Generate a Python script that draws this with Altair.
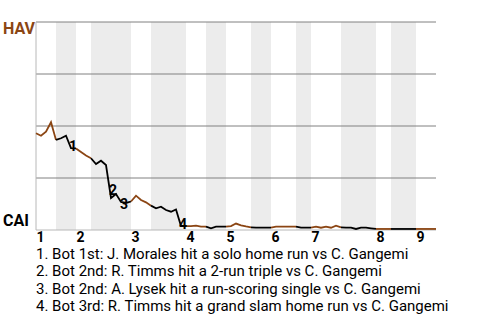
import altair as alt
import pandas as pd

# HAV win probability after each event (event index 0..80)
wp = [0.465, 0.453, 0.473, 0.518, 0.433,
      0.441, 0.453, 0.394, 0.392,
      0.375, 0.358, 0.345,
      0.317, 0.333, 0.3125, 0.154, 0.173, 0.135, 0.130, 0.137,
      0.165, 0.144, 0.133, 0.117,
      0.104, 0.112, 0.096, 0.088, 0.099, 0.019, 0.019,
      0.019, 0.021, 0.016, 0.016,
      0.008, 0.016, 0.016, 0.016,
      0.019, 0.031, 0.022, 0.017, 0.013,
      0.011, 0.011, 0.011, 0.011,
      0.016, 0.016, 0.016, 0.016, 0.016,
      0.011, 0.011, 0.011,
      0.016, 0.011, 0.016, 0.011, 0.021, 0.013,
      0.011, 0.011, 0.005, 0.011, 0.011, 0.008, 0.005,
      0.005, 0.005, 0.005,
      0.005, 0.005, 0.005, 0.005, 0.005,
      0.005, 0.005, 0.005, 0.005]

# half-inning boundaries (event index)
half_bounds = [0, 4, 8, 11, 19, 23, 30, 34, 38, 43, 47, 52, 55, 61, 68, 71, 76, 80]
inning_labels = ["1", "2", "3", "4", "5", "6", "7", "8", "9"]
grid_values = [0.25, 0.5, 0.75, 1.0]

event_idx = [7, 15, 17, 29]
event_marks = ["1", "2", "3", "4"]
notes = [
    "1. Bot 1st: J. Morales hit a solo home run vs C. Gangemi",
    "2. Bot 2nd: R. Timms hit a 2-run triple vs C. Gangemi",
    "3. Bot 2nd: A. Lysek hit a run-scoring single vs C. Gangemi",
    "4. Bot 3rd: R. Timms hit a grand slam home run vs C. Gangemi",
]

BROWN = "#8B4513"
FONT = "Roboto"

rows = []
for h in range(len(half_bounds) - 1):
    team = "HAV" if h % 2 == 0 else "CAI"
    for i in range(half_bounds[h], half_bounds[h + 1] + 1):
        rows.append({"seg": h, "team": team, "i": i, "wp": wp[i]})
line_df = pd.DataFrame(rows)

bands_df = pd.DataFrame(
    [{"s": half_bounds[h], "e": half_bounds[h + 1]} for h in range(1, len(half_bounds) - 1, 2)]
)
innings_df = pd.DataFrame({"i": half_bounds[0::2][:9], "lab": inning_labels})
grid_df = pd.DataFrame({"v": grid_values})
ev_df = pd.DataFrame({"i": event_idx, "wp": [wp[k] for k in event_idx], "lab": event_marks})

xs = alt.Scale(domain=[0, 80], nice=False, zero=False)
ys = alt.Scale(domain=[0, 1], nice=False)

bands = alt.Chart(bands_df).mark_rect(color="#ececec").encode(
    x=alt.X("s:Q", scale=xs, axis=None),
    x2="e:Q",
    y=alt.value(0),
    y2=alt.value(208),
)

grid = alt.Chart(grid_df).mark_rule(color="#808080", strokeWidth=1).encode(
    y=alt.Y("v:Q", scale=ys, axis=None)
)

base_axis = alt.Chart(pd.DataFrame({"v": [0]})).mark_rule(color="#b8b8b8", strokeWidth=1).encode(
    y=alt.Y("v:Q", scale=ys, axis=None)
)
left_axis = alt.Chart(pd.DataFrame({"v": [0]})).mark_rule(color="#b8b8b8", strokeWidth=1).encode(
    x=alt.X("v:Q", scale=xs, axis=None)
)

line = alt.Chart(line_df).mark_line(strokeWidth=1.8).encode(
    x=alt.X("i:Q", scale=xs, axis=None),
    y=alt.Y("wp:Q", scale=ys, axis=None),
    detail="seg:N",
    color=alt.Color("team:N", scale=alt.Scale(domain=["HAV", "CAI"], range=[BROWN, "#000000"]), legend=None),
)


def ev_layer(labels, dx, dy):
    return alt.Chart(ev_df).transform_filter(
        alt.FieldOneOfPredicate(field="lab", oneOf=labels)
    ).mark_text(
        font=FONT, fontSize=14, fontWeight="bold", color="#000",
        align="center", baseline="middle", dx=dx, dy=dy
    ).encode(
        x=alt.X("i:Q", scale=xs, axis=None),
        y=alt.Y("wp:Q", scale=ys, axis=None),
        text="lab:N",
    )


ev_main = ev_layer(["1", "4"], 2, -1)
ev_up = ev_layer(["2"], 2, -7)
ev_down = ev_layer(["3"], 3, 3)

inn_text = alt.Chart(innings_df).mark_text(
    font=FONT, fontSize=14, fontWeight="bold", color="#000", align="left", baseline="alphabetic", dx=0.5
).encode(
    x=alt.X("i:Q", scale=xs, axis=None),
    y=alt.value(220),
    text="lab:N",
)

hav = alt.Chart(pd.DataFrame({"t": ["HAV"]})).mark_text(
    font=FONT, fontSize=16, fontWeight="bold", color=BROWN, align="left", baseline="alphabetic"
).encode(x=alt.value(-33), y=alt.value(12), text="t:N")

cai = alt.Chart(pd.DataFrame({"t": ["CAI"]})).mark_text(
    font=FONT, fontSize=16, fontWeight="bold", color="#000", align="left", baseline="alphabetic"
).encode(x=alt.value(-33), y=alt.value(204), text="t:N")

notes_text = alt.Chart(pd.DataFrame({"k": [0]})).mark_text(
    font=FONT, fontSize=15, color="#000", align="left", baseline="alphabetic",
    lineHeight=17.4, text=notes
).encode(x=alt.value(0), y=alt.value(237))

chart = alt.layer(
    bands, grid, base_axis, left_axis, line, ev_main, ev_up, ev_down, inn_text, hav, cai, notes_text
).properties(
    width=400, height=208,
    padding={"left": 36, "top": 22, "right": 44, "bottom": 90},
    autosize="none",
).configure_view(stroke=None)

chart.save("out.html", embed_options={"renderer": "svg", "actions": False})
